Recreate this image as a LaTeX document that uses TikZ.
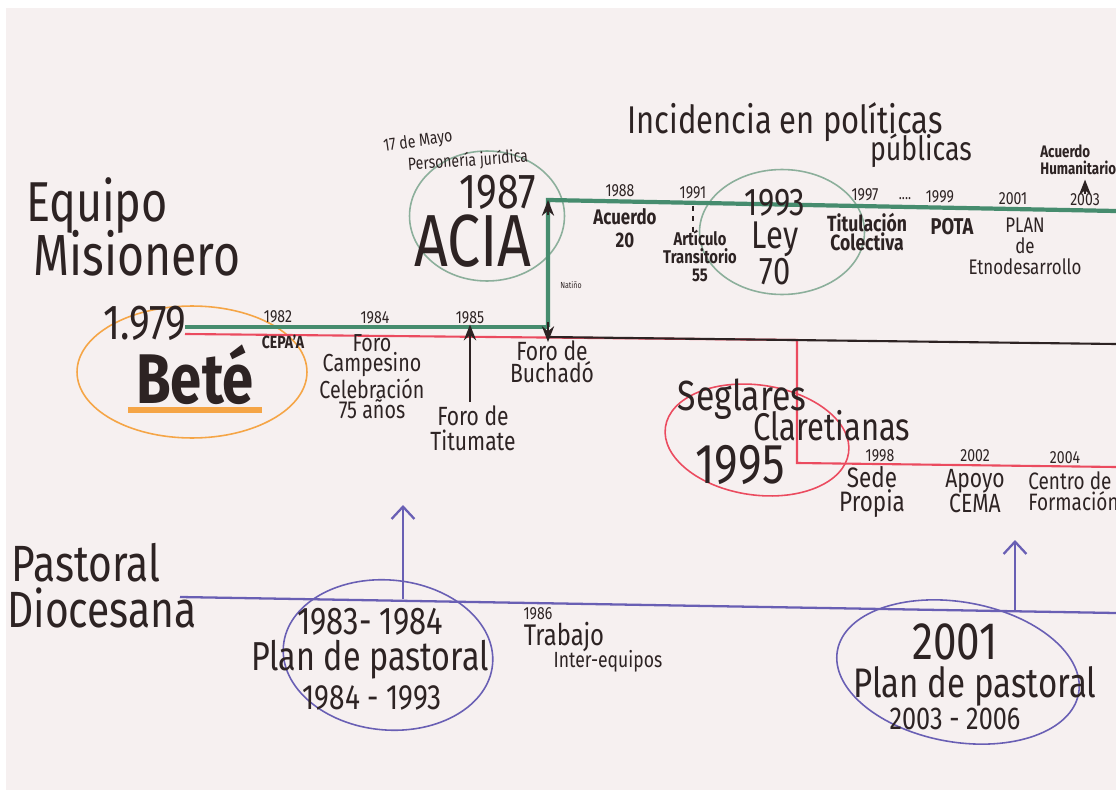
\documentclass[tikz,border=0pt]{standalone}
\usepackage{fontspec}
\setmainfont{Fira Sans}[FakeStretch=0.8]
\usetikzlibrary{arrows.meta}

\definecolor{paper}{RGB}{246,240,240}
\definecolor{ink}{RGB}{45,35,35}
\definecolor{linegreen}{RGB}{70,140,110}
\definecolor{loopgreen}{RGB}{140,175,155}
\definecolor{linered}{RGB}{235,75,95}
\definecolor{lineorange}{RGB}{245,165,70}
\definecolor{lineblue}{RGB}{105,95,180}

\newcommand\fsz[2]{\fontsize{#1}{#2}\selectfont}

\tikzset{
  lab/.style={inner sep=0pt, text=ink, align=center},
  yr/.style={lab, font=\fsz{10}{10}},
  loop/.style={line width=0.9pt},
  tip/.style={-{Stealth[length=9pt,width=7pt]}},
  barb/.style={-{Straight Barb[length=7pt,width=13pt]}},
}

\begin{document}
\begin{tikzpicture}[x=0.02cm,y=-0.02cm]
\fill[white] (0,0) rectangle (1116,794);
\fill[paper] (6,8) rectangle (1116,790);
\useasboundingbox (0,0) rectangle (1116,794);

% timeline corners
\coordinate (bete0) at (185,327);
\coordinate (buch) at (548,327);
\coordinate (acia0) at (548,200);
\coordinate (aciaR) at (1116,211);
\coordinate (red0) at (185,334);
\coordinate (redK) at (797,340);
\coordinate (redD) at (797,463);
\coordinate (redR) at (1116,467);
\coordinate (blk0) at (548,337);
\coordinate (blkR) at (1116,344);
\coordinate (dio0) at (180,597);
\coordinate (dioR) at (1116,613);

% loops
\draw[loop, lineorange] (192,372) ellipse [x radius=2.3cm, y radius=1.32cm];
\draw[lineorange, line width=3pt] (128,410) -- (262,410);
\draw[loop, loopgreen] (487,216) ellipse [x radius=1.55cm, y radius=1.3cm];
\draw[loop, loopgreen] (782,232) ellipse [x radius=1.65cm, y radius=1.25cm];
\draw[loop, linered, rotate around={-8:(757,440)}] (757,440) ellipse [x radius=1.85cm, y radius=1.1cm];
\draw[loop, lineblue, rotate around={-5:(388,655)}] (388,655) ellipse [x radius=2.1cm, y radius=1.5cm];
\draw[loop, lineblue, rotate around={-10:(958,672)}] (958,672) ellipse [x radius=2.45cm, y radius=1.4cm];

% lines
\draw[linered, line width=1.2pt] (red0) -- (redK) -- (redD) -- (redR);
\draw[ink, line width=1.2pt] (blk0) -- (blkR);
\draw[linegreen, line width=2.6pt] (bete0) -- (buch);
\draw[linegreen, line width=2.4pt] (buch) -- (acia0) -- (aciaR);
\draw[lineblue, line width=1.3pt] (dio0) -- (dioR);

% titles
\node[lab, font=\fsz{32}{32}] (equipo) at (97,206) {Equipo};
\node[lab, font=\fsz{33}{33}] (misionero) at (137,253) {Misionero};
\node[lab, font=\fsz{28}{28}] (y1979) at (145,323) {1.979};
\node[lab, font=\bfseries\fsz{40}{40}] (bete) at (195,375) {Beté};
\node[lab, font=\fsz{29}{29}] (pastoral) at (86,563) {Pastoral};
\node[lab, font=\fsz{29}{29}] (diocesana) at (102,608) {Diocesana};

% bete line
\node[yr] (y1982) at (278,317) {1982};
\node[lab, font=\bfseries\fsz{10}{11}] (cepaa) at (283,342) {CEPA'A};
\node[yr] (y1984) at (375,318) {1984};
\node[lab, font=\fsz{14}{11.5}] (campesino) at (372,377) {Foro\\Campesino\\Celebración\\75 años};
\node[yr] (y1985) at (470,318) {1985};
\node[lab, font=\fsz{15}{14}] (titumate) at (473,428) {Foro de\\Titumate};
\node[lab, font=\fsz{15}{12.5}] (buchado) at (552,362) {Foro de\\Buchadó};
\node[lab, font=\fsz{5}{6}] (natino) at (571,285) {Natiño};
\draw[ink, line width=1.2pt, tip] (470,402) coordinate (tit1) (tit1) -- (y1985.south);
\draw[ink, line width=1pt, tip] (548,322) -- (548,342);

% acia
\node[lab, font=\fsz{10}{10}, rotate=8] (mayo) at (418,142) {17 de Mayo};
\node[lab, font=\fsz{10}{10}, rotate=4] (juridica) at (468,161) {Personería jurídica};
\node[lab, font=\fsz{28}{28}] (y1987) at (498,192) {1987};
\node[lab, font=\fsz{42}{42}] (acia) at (473,241) {ACIA};
\draw[ink, line width=1pt, tip] (548,215) -- (acia0);
\node[lab, font=\fsz{22}{22}] (incidencia) at (785,122) {Incidencia en políticas};
\node[lab, font=\fsz{19}{19}] (publicas) at (921,151) {públicas};
\node[yr] (y1988) at (620,191) {1988};
\node[lab, font=\bfseries\fsz{12}{13}] (acuerdo) at (625,228) {Acuerdo\\20};
\node[yr] (y1991) at (693,193) {1991};
\draw[ink, line width=1pt, dashed] (y1991.south) ++(0,6) -- ++(0,26);
\node[lab, font=\bfseries\fsz{10.5}{10}] (articulo) at (700,256) {Artículo\\Transitorio\\55};
\node[lab, font=\fsz{22}{18.5}] (ley) at (775,237) {1993\\Ley\\70};
\node[yr] (y1997) at (865,195) {1997};
\node[lab, font=\fsz{9}{9}] (dots) at (905,199) {....};
\node[lab, font=\bfseries\fsz{12.5}{11}] (titulacion) at (867,232) {Titulación\\Colectiva};
\node[yr] (y1999) at (940,197) {1999};
\node[lab, font=\bfseries\fsz{13}{13}] (pota) at (952,227) {POTA};
\node[yr] (y2001) at (1013,199) {2001};
\node[lab, font=\fsz{12}{12}] (plan) at (1025,246) {PLAN\\de\\Etnodesarrollo};
\node[yr] (y2003) at (1085,200) {2003};
\node[lab, font=\bfseries\fsz{9.5}{9.5}, anchor=west, align=left] (humanitario) at (1040,160) {Acuerdo\\Humanitario};
\draw[ink, line width=1pt, tip] (y2003.north) -- ++(0,-14);

% seglares
\node[lab, font=\fsz{24}{24}] (seglares) at (742,399) {Seglares};
\node[lab, font=\fsz{22}{22}] (claretianas) at (832,426) {Claretianas};
\node[lab, font=\fsz{32}{32}] (y1995) at (740,465) {1995};
\node[yr] (y1998) at (880,456) {1998};
\node[lab, font=\fsz{16}{12.5}] (sede) at (872,492) {Sede\\Propia};
\node[yr] (y2002) at (975,456) {2002};
\node[lab, font=\fsz{15}{12}] (apoyo) at (975,491) {Apoyo\\CEMA};
\node[yr] (y2004) at (1065,458) {2004};
\node[lab, font=\fsz{13.5}{12}, anchor=west, align=left] (centro) at (1028,491) {Centro de\\Formación};

% diocesana
\node[lab, font=\fsz{22}{22}] (p1983) at (370,622) {1983- 1984};
\node[lab, font=\fsz{23}{23}] (plan1) at (370,660) {Plan de pastoral};
\node[lab, font=\fsz{20}{20}] (p1984) at (372,698) {1984 - 1993};
\node[yr] (y1986) at (538,614) {1986};
\node[lab, font=\fsz{17}{17}] (trabajo) at (564,637) {Trabajo};
\node[lab, font=\fsz{12.5}{12.5}] (inter) at (608,661) {Inter-equipos};
\node[lab, font=\fsz{30}{30}] (p2001) at (955,642) {2001};
\node[lab, font=\fsz{23.5}{23.5}] (plan2) at (975,686) {Plan de pastoral};
\node[lab, font=\fsz{18}{18}] (p2003) at (955,719) {2003 - 2006};
\coordinate (arr1) at (403,505);
\coordinate (arr2) at (1015,540);
\draw[lineblue, line width=1.3pt, barb] (403,599) -- (arr1);
\draw[lineblue, line width=1.3pt, barb] (1015,610) -- (arr2);
\end{tikzpicture}
\end{document}
